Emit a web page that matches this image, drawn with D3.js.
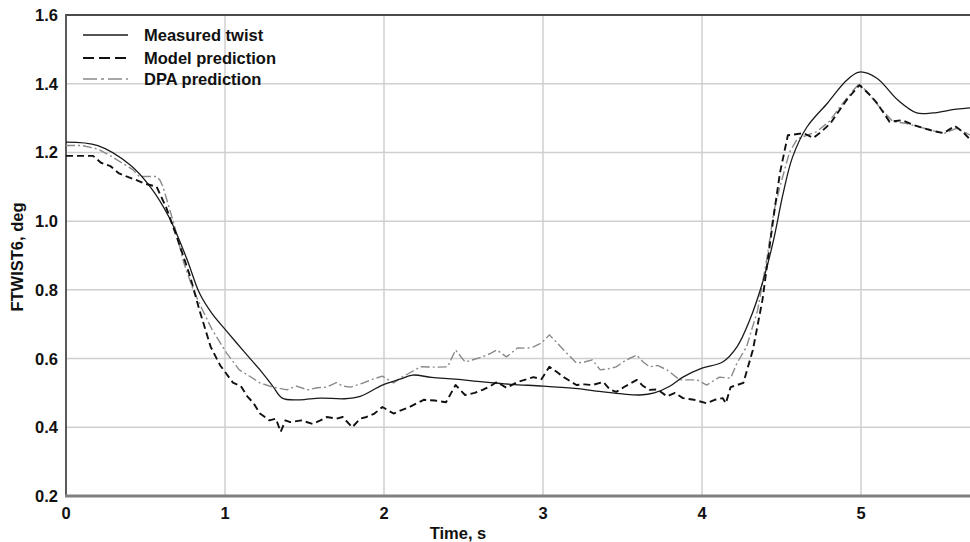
<!DOCTYPE html>
<html><head><meta charset="utf-8">
<script src="https://cdn.jsdelivr.net/npm/d3@7"></script>
<style>
html,body{margin:0;padding:0;background:#fff;}
svg text{font-family:"Liberation Sans",Arial,Helvetica,sans-serif;font-weight:bold;fill:#111;}
</style></head>
<body>
<svg id="chart" width="970" height="542"></svg>
<script>
// ---- Data ----
const xTicks = [0, 1, 2, 3, 4, 5];
const yTicks = [0.2, 0.4, 0.6, 0.8, 1.0, 1.2, 1.4, 1.6];
const seriesNames = ["Measured twist", "Model prediction", "DPA prediction"];

const measuredT = [0,0.2,0.4,0.53,0.65,0.76,0.84,0.92,1.01,1.12,1.22,1.30,1.36,1.47,1.6,1.75,1.85,1.99,2.1,2.18,2.3,2.45,2.62,2.8,3.0,3.2,3.38,3.5,3.61,3.7,3.8,3.88,4.0,4.13,4.22,4.3,4.38,4.45,4.51,4.57,4.66,4.79,4.91,4.99,5.10,5.23,5.35,5.45,5.60,5.69];
const measuredV = [1.23,1.22,1.165,1.10,1.01,0.89,0.79,0.73,0.68,0.62,0.567,0.52,0.485,0.48,0.485,0.483,0.49,0.523,0.54,0.552,0.545,0.54,0.532,0.525,0.52,0.513,0.503,0.497,0.494,0.50,0.52,0.546,0.572,0.59,0.634,0.712,0.82,0.945,1.08,1.187,1.274,1.344,1.41,1.434,1.416,1.353,1.315,1.315,1.326,1.33];

const modelT = [0,0.08,0.17,0.22,0.28,0.33,0.38,0.44,0.49,0.57,0.63,0.70,0.78,0.84,0.91,0.97,1.05,1.10,1.14,1.18,1.22,1.28,1.32,1.35,1.38,1.41,1.48,1.55,1.60,1.64,1.70,1.74,1.80,1.85,1.89,1.94,1.99,2.06,2.11,2.16,2.25,2.32,2.39,2.45,2.51,2.57,2.62,2.67,2.71,2.77,2.84,2.90,2.94,2.99,3.04,3.09,3.13,3.21,3.26,3.31,3.38,3.42,3.46,3.52,3.59,3.63,3.67,3.72,3.78,3.83,3.88,3.95,4.03,4.08,4.13,4.15,4.18,4.26,4.32,4.38,4.45,4.49,4.54,4.64,4.70,4.75,4.81,4.86,4.91,4.96,4.99,5.05,5.10,5.18,5.26,5.33,5.39,5.46,5.52,5.59,5.64,5.69];
const modelV = [1.19,1.19,1.19,1.17,1.16,1.14,1.13,1.12,1.11,1.10,1.04,0.95,0.84,0.74,0.634,0.58,0.53,0.52,0.49,0.47,0.44,0.42,0.425,0.387,0.42,0.415,0.42,0.41,0.42,0.43,0.425,0.43,0.40,0.425,0.43,0.44,0.459,0.44,0.45,0.459,0.48,0.478,0.473,0.523,0.494,0.50,0.509,0.52,0.532,0.515,0.532,0.54,0.546,0.54,0.576,0.56,0.546,0.523,0.525,0.523,0.532,0.51,0.503,0.52,0.538,0.52,0.509,0.51,0.49,0.50,0.485,0.48,0.47,0.48,0.485,0.47,0.517,0.529,0.625,0.77,1.012,1.14,1.25,1.256,1.242,1.26,1.286,1.32,1.353,1.38,1.396,1.37,1.344,1.289,1.294,1.28,1.271,1.262,1.256,1.277,1.26,1.236];

const dpaT = [0,0.1,0.2,0.28,0.35,0.42,0.46,0.52,0.57,0.59,0.61,0.68,0.74,0.80,0.86,0.92,1.01,1.09,1.15,1.22,1.30,1.39,1.45,1.52,1.58,1.64,1.70,1.74,1.79,1.87,1.93,1.99,2.06,2.11,2.16,2.23,2.32,2.40,2.45,2.51,2.57,2.62,2.67,2.71,2.77,2.84,2.90,2.94,2.99,3.04,3.09,3.13,3.21,3.26,3.31,3.36,3.41,3.46,3.52,3.59,3.63,3.67,3.72,3.78,3.86,3.92,3.97,4.03,4.11,4.18,4.22,4.28,4.35,4.41,4.45,4.49,4.55,4.60,4.66,4.72,4.80,4.88,4.95,4.99,5.05,5.12,5.20,5.28,5.36,5.44,5.52,5.60,5.69];
const dpaV = [1.22,1.22,1.21,1.19,1.17,1.15,1.13,1.13,1.13,1.12,1.10,0.99,0.88,0.80,0.74,0.683,0.616,0.567,0.55,0.529,0.517,0.509,0.52,0.509,0.515,0.517,0.53,0.52,0.517,0.529,0.54,0.549,0.529,0.545,0.558,0.576,0.575,0.576,0.625,0.59,0.598,0.605,0.615,0.625,0.605,0.631,0.63,0.634,0.645,0.669,0.645,0.625,0.587,0.59,0.596,0.567,0.57,0.576,0.595,0.61,0.59,0.576,0.58,0.567,0.538,0.538,0.538,0.523,0.546,0.543,0.587,0.634,0.741,0.896,1.024,1.1,1.2,1.24,1.25,1.26,1.29,1.34,1.38,1.40,1.37,1.33,1.29,1.285,1.275,1.265,1.255,1.27,1.25];

// ---- Layout ----
const svg = d3.select("#chart");
const L = 66, R = 970, T = 15, B = 496;
const x = d3.scaleLinear().domain([0, (R - L) / 159]).range([L, R]);
const y = d3.scaleLinear().domain([0.2, 1.6]).range([B, T]);

// gridlines
svg.append("g").selectAll("line.h").data(yTicks.slice(1, -1)).join("line")
  .attr("x1", L).attr("x2", R).attr("y1", d => y(d)).attr("y2", d => y(d))
  .attr("stroke", "#cfcfcf").attr("stroke-width", 1.5);
svg.append("g").selectAll("line.v").data(xTicks.slice(1)).join("line")
  .attr("x1", d => x(d)).attr("x2", d => x(d)).attr("y1", T).attr("y2", B)
  .attr("stroke", "#cfcfcf").attr("stroke-width", 1.5);

// frame
svg.append("line").attr("x1", L - 1).attr("x2", R).attr("y1", T).attr("y2", T)
  .attr("stroke", "#4a4a4a").attr("stroke-width", 2);
svg.append("line").attr("x1", L).attr("x2", L).attr("y1", T).attr("y2", B)
  .attr("stroke", "#5a5a5a").attr("stroke-width", 2);
svg.append("line").attr("x1", L - 1).attr("x2", R).attr("y1", B).attr("y2", B)
  .attr("stroke", "#808080").attr("stroke-width", 3);

const FS = 16.5;
// tick labels
svg.append("g").selectAll("text").data(yTicks).join("text")
  .attr("x", 58).attr("y", d => y(d) + 6).attr("text-anchor", "end")
  .attr("font-size", FS).text(d => d.toFixed(1));
svg.append("g").selectAll("text").data(xTicks).join("text")
  .attr("x", d => x(d)).attr("y", 519).attr("text-anchor", "middle")
  .attr("font-size", FS).text(d => d);

// axis titles
svg.append("text").attr("x", 458).attr("y", 539).attr("text-anchor", "middle")
  .attr("font-size", FS).text("Time, s");
svg.append("text").attr("transform", "translate(23,257) rotate(-90)")
  .attr("text-anchor", "middle").attr("font-size", FS).text("FTWIST6, deg");

// series
const styles = [
  {stroke: "#1a1a1a", width: 1.3, dash: null, curve: d3.curveCatmullRom},
  {stroke: "#111", width: 1.9, dash: "7,4", curve: d3.curveLinear},
  {stroke: "#8a8a8a", width: 1.4, dash: "9,3,2,3", curve: d3.curveLinear}
];
const seriesData = [
  measuredT.map((t, i) => [t, measuredV[i]]),
  modelT.map((t, i) => [t, modelV[i]]),
  dpaT.map((t, i) => [t, dpaV[i]])
];
svg.append("clipPath").attr("id", "clip").append("rect")
  .attr("x", L).attr("y", T).attr("width", R - L).attr("height", B - T);
const order = [2, 0, 1];
order.forEach(i => {
  const s = styles[i];
  const line = d3.line().x(d => x(d[0])).y(d => y(d[1])).curve(s.curve);
  svg.append("path").datum(seriesData[i]).attr("d", line)
    .attr("clip-path", "url(#clip)")
    .attr("fill", "none").attr("stroke", s.stroke).attr("stroke-width", s.width)
    .attr("stroke-dasharray", s.dash).attr("stroke-linejoin", "round");
});

// legend
const legY = [35, 58, 79];
const leg = svg.append("g");
seriesNames.forEach((n, i) => {
  const s = styles[i];
  leg.append("line").attr("x1", 83).attr("x2", 128).attr("y1", legY[i]).attr("y2", legY[i])
    .attr("stroke", s.stroke).attr("stroke-width", s.width + 0.3)
    .attr("stroke-dasharray", i === 1 ? "11,5" : (i === 2 ? "14,4,3,4" : null));
  leg.append("text").attr("x", 144).attr("y", legY[i] + 6)
    .attr("font-size", FS).text(n);
});
</script>
</body></html>
